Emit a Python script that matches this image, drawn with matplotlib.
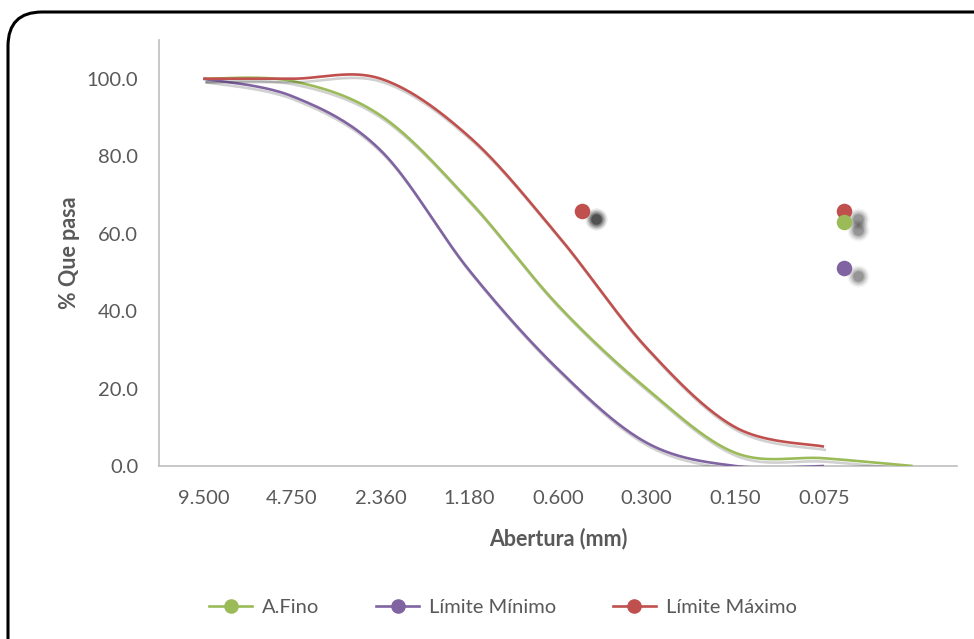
import matplotlib
matplotlib.use('Agg')
import matplotlib.pyplot as plt
import matplotlib.patheffects as pe
import matplotlib.transforms as mtransforms
from matplotlib.patches import FancyBboxPatch
from matplotlib.lines import Line2D
import numpy as np

plt.rcParams['font.family'] = ['Lato', 'DejaVu Sans']

# ---- data ----
sieves = ['9.500', '4.750', '2.360', '1.180', '0.600', '0.300', '0.150', '0.075']
fino = [100, 99.4, 90.5, 68.5, 41.5, 20, 3.4, 2.0, 0]       # last point = pan (no label)
lim_min = [100, 95.5, 81.5, 50.5, 25, 6, 0, 0]
lim_max = [100, 100, 100, 85, 59.5, 30.5, 10, 5]

# stray marker points (x in category units)
dots_x = [4.27, 7.22, 7.22, 7.22]
dots_y = [65.8, 65.8, 63.0, 51.2]
dots_c = ['#C0504D', '#C0504D', '#9BBB59', '#8064A2']
dots_shadow = [0.9, 0.45, 0.45, 0.45]

GREEN, PURPLE, RED = '#9BBB59', '#8064A2', '#C0504D'
TXT = '#595959'


def smooth(y, n=40):
    # Catmull-Rom style bezier like the spreadsheet "smoothed line"
    y = np.asarray(y, float)
    x = np.arange(len(y), dtype=float)
    P = np.column_stack([x, y])
    out = []
    for i in range(len(P) - 1):
        p0 = P[i - 1] if i > 0 else P[i]
        p1, p2 = P[i], P[i + 1]
        p3 = P[i + 2] if i + 2 < len(P) else P[i + 1]
        b1 = p1 + (p2 - p0) / 6
        b2 = p2 - (p3 - p1) / 6
        t = np.linspace(0, 1, n)[:, None]
        seg = ((1 - t) ** 3) * p1 + 3 * ((1 - t) ** 2) * t * b1 + 3 * (1 - t) * t ** 2 * b2 + t ** 3 * p2
        out.append(seg if i == 0 else seg[1:])
    s = np.vstack(out)
    return s[:, 0], s[:, 1]


fig = plt.figure(figsize=(9.74, 6.39), dpi=100)
ax = fig.add_axes([159 / 974, 1 - 466 / 639, 798 / 974, 426 / 639])

shadow = [pe.SimpleLineShadow(offset=(1.5, -2.5), shadow_color='k', alpha=0.18), pe.Normal()]
for vals, col in [(fino, GREEN), (lim_min, PURPLE), (lim_max, RED)]:
    sx, sy = smooth(vals)
    ax.plot(sx, sy, color=col, lw=1.9, path_effects=shadow, solid_capstyle='butt', zorder=3)

# stray dots with blurred shadows
sh_tr = mtransforms.offset_copy(ax.transData, fig=fig, x=14, y=-8, units='dots')
for x, y, c, a in zip(dots_x, dots_y, dots_c, dots_shadow):
    for s, al in [(260, 0.05), (200, 0.08), (150, 0.12), (100, 0.18), (60, 0.25)]:
        ax.scatter([x], [y], s=s, color='k', alpha=al * a * 1.6, linewidths=0, transform=sh_tr, zorder=2)
    ax.scatter([x], [y], s=125, color=c, linewidths=0, zorder=4)

ax.set_xlim(-0.5, 8.5)
ax.set_ylim(0, 110)
ax.set_yticks(np.arange(0, 101, 20))
ax.set_yticklabels([f'{v:.1f}' for v in np.arange(0, 101, 20)])
ax.set_xticks(range(len(sieves)))
ax.set_xticklabels(sieves)
ax.tick_params(length=0, colors=TXT, labelsize=14.5)
ax.tick_params(axis='x', pad=17)
ax.tick_params(axis='y', pad=15)
for side in ['top', 'right']:
    ax.spines[side].set_visible(False)
for side in ['left', 'bottom']:
    ax.spines[side].set_color('#BFBFBF')
    ax.spines[side].set_linewidth(1.2)

ax.set_xlabel('Abertura (mm)', fontsize=15.5, fontweight='bold', color=TXT, labelpad=15)
ax.set_ylabel('% Que pasa', fontsize=15.5, fontweight='bold', color=TXT, labelpad=5)

handles = [Line2D([], [], color=c, lw=1.9, marker='o', markersize=9.5) for c in (GREEN, PURPLE, RED)]
leg = fig.legend(handles, ['A.Fino', 'Límite Mínimo', 'Límite Máximo'], loc='center',
                 bbox_to_anchor=(503 / 974, 1 - 607 / 639), ncol=3, frameon=False,
                 fontsize=14.5, handlelength=2.1, handletextpad=0.5, columnspacing=2.85)
for t in leg.get_texts():
    t.set_color(TXT)

# rounded chart frame (cropped on the right/bottom)
frame = FancyBboxPatch((8 / 974, -40 / 639), 1000 / 974, (639 - 12 + 40) / 639,
                       boxstyle='round,pad=0,rounding_size=0.035', transform=fig.transFigure,
                       facecolor='none', edgecolor='black', linewidth=2.2, mutation_aspect=974 / 639)
fig.patches.append(frame)

fig.savefig('out.png', dpi=100)
